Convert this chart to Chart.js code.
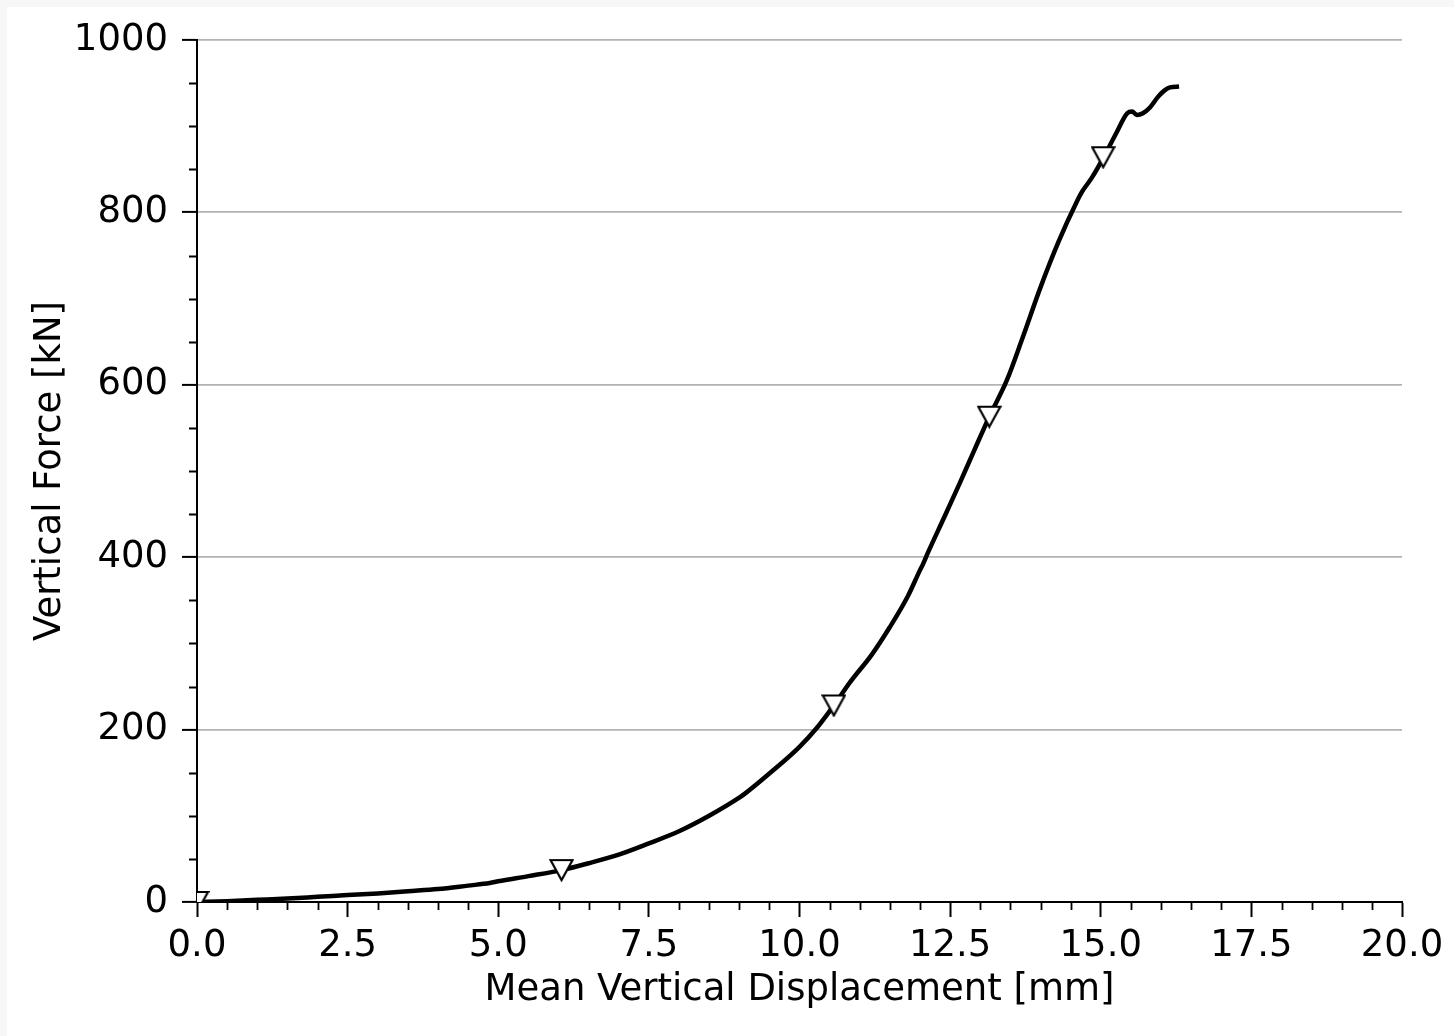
<!DOCTYPE html>
<html>
<head>
<meta charset="utf-8">
<script src="https://cdn.jsdelivr.net/npm/chart.js@4.4.1/dist/chart.umd.min.js"></script>
<style>
  html, body { margin: 0; padding: 0; background: #f7f7f7; }
  #wrap { position: absolute; left: 7px; top: 7px; right: 0; bottom: 0; background: #fff; }
  #chart { position: absolute; left: 0; top: 0; }
</style>
</head>
<body>
<div id="wrap"></div>
<canvas id="chart" width="1454" height="1036"></canvas>
<script>
// --- data ---
const dispMm = [0, 0.5, 1.0, 1.5, 2.0, 2.5, 3.0, 3.5, 4.0, 4.5, 4.86, 5.0, 5.5, 6.05, 6.5, 7.0, 7.5, 8.0, 8.5, 9.0, 9.1,
  9.5, 10.0, 10.3, 10.57, 10.84, 11.2, 11.5, 11.8, 12.0, 12.05, 12.13, 12.4, 12.66, 12.9, 13.15, 13.44, 13.7, 14.0,
  14.3, 14.6, 14.69, 14.85, 15.04, 15.25, 15.44, 15.52, 15.6, 15.7, 15.82, 15.95, 16.05, 16.15, 16.3];
const forceKn = [0, 1, 2.5, 4, 6, 8, 10, 12.5, 15, 19, 22, 24, 30, 37, 45, 55, 68, 82, 100, 121, 126,
  149, 180, 203, 228, 255, 287, 319, 355, 385, 392, 405, 446, 486, 524, 563, 605, 654, 713,
  766, 812, 824, 840, 863, 891, 915, 917, 913, 915, 922, 934, 941, 945, 946];

// marked points (down triangles)
const markDisp = [0, 6.05, 10.57, 13.15, 15.04];
const markForce = [0, 37, 228, 563, 864];

const xTicks = [0, 2.5, 5, 7.5, 10, 12.5, 15, 17.5, 20];
const yTicks = [0, 200, 400, 600, 800, 1000];

const FONT = "'DejaVu Sans', sans-serif";

// triangle_down marker as a small canvas
function makeTriangle() {
  const c = document.createElement('canvas');
  c.width = 25; c.height = 24;
  const g = c.getContext('2d');
  g.beginPath();
  g.moveTo(1.5, 2);
  g.lineTo(23.5, 2);
  g.lineTo(12.5, 22);
  g.closePath();
  g.fillStyle = '#fff';
  g.fill();
  g.lineWidth = 2.2;
  g.strokeStyle = '#000';
  g.stroke();
  return c;
}

// minor ticks like matplotlib (x every 0.5, y every 50)
const minorTicks = {
  id: 'minorTicks',
  afterDraw(chart) {
    const ctx = chart.ctx;
    const xs = chart.scales.x, ys = chart.scales.y;
    const bottom = chart.chartArea.bottom, left = chart.chartArea.left;
    ctx.save();
    ctx.strokeStyle = '#000';
    ctx.lineWidth = 1.8;
    ctx.beginPath();
    for (let i = 1; i < 40; i++) {
      if (i % 5 === 0) continue;
      const px = Math.round(xs.getPixelForValue(i * 0.5)) + 0.5;
      ctx.moveTo(px, bottom);
      ctx.lineTo(px, bottom + 8);
    }
    for (let i = 1; i < 20; i++) {
      if (i % 4 === 0) continue;
      const py = Math.round(ys.getPixelForValue(i * 50)) + 0.5;
      ctx.moveTo(left, py);
      ctx.lineTo(left - 8, py);
    }
    ctx.stroke();
    ctx.restore();
  }
};

const ctx = document.getElementById('chart').getContext('2d');
new Chart(ctx, {
  type: 'scatter',
  data: {
    datasets: [{
      data: markDisp.map((x, i) => ({ x: x, y: markForce[i] })),
      showLine: false,
      pointStyle: makeTriangle(),
      pointRadius: 12
    }, {
      data: dispMm.map((x, i) => ({ x: x, y: forceKn[i] })),
      showLine: true,
      borderColor: '#000',
      borderWidth: 4.5,
      pointRadius: 0,
      cubicInterpolationMode: 'monotone'
    }]
  },
  options: {
    responsive: false,
    animation: false,
    events: [],
    layout: { padding: { top: 40, right: 52, left: 0, bottom: 0 } },
    plugins: { legend: { display: false }, tooltip: { enabled: false } },
    scales: {
      x: {
        type: 'linear',
        min: 0, max: 20,
        afterBuildTicks: s => { s.ticks = xTicks.map(v => ({ value: v })); },
        afterFit: s => { s.height = 134; },
        ticks: {
          color: '#000',
          font: { family: FONT, size: 37 },
          padding: 7,
          maxRotation: 0,
          autoSkip: false,
          callback: v => Number(v).toFixed(1)
        },
        grid: { drawOnChartArea: false, drawTicks: true, tickLength: 15, tickColor: '#000', tickWidth: 2 },
        border: { display: true, color: '#000', width: 2 },
        title: {
          display: true,
          text: 'Mean Vertical Displacement [mm]',
          color: '#000',
          font: { family: FONT, size: 37 },
          padding: { top: 0, bottom: 23 }
        }
      },
      y: {
        type: 'linear',
        min: 0, max: 1000,
        afterBuildTicks: s => { s.ticks = yTicks.map(v => ({ value: v })); },
        afterFit: s => { s.width = 197; },
        ticks: {
          color: '#000',
          font: { family: FONT, size: 37 },
          padding: 14,
          autoSkip: false,
          callback: v => String(v)
        },
        grid: { color: '#b3b3b3', lineWidth: 1.8, drawTicks: true, tickLength: 15, tickColor: '#000', tickWidth: 2 },
        border: { display: true, color: '#000', width: 2 },
        title: {
          display: true,
          text: 'Vertical Force [kN]',
          color: '#000',
          font: { family: FONT, size: 37 },
          padding: { top: 28, bottom: 0 }
        }
      }
    }
  },
  plugins: [minorTicks]
});
</script>
</body>
</html>
